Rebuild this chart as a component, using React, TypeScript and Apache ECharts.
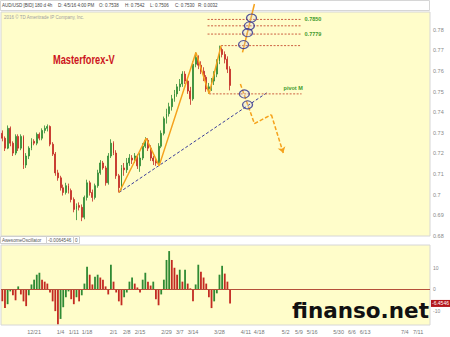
import React, { useEffect, useRef } from "react";
import * as echarts from "echarts";

// ---- axis structure ----
const START_DATE = "2015-12-03";
const SLOT_COUNT = 162; // weekday slots shown on the time axis (data + future space)
const dateTicks = ["12/21", "1/4", "1/11", "1/18", "2/1", "2/8", "2/15", "2/29", "3/7", "3/14", "3/28", "4/11", "4/18", "5/2", "5/9", "5/16", "5/30", "6/6", "6/13", "7/4", "7/11"];
const priceTicks = [0.68, 0.69, 0.7, 0.71, 0.72, 0.73, 0.74, 0.75, 0.76, 0.77, 0.78];
const aoTicks = [-10, 0, 10];

// ---- price data: [open, close, low, high] per day ----
const ohlc = [
  [0.7298, 0.7274, 0.7259, 0.7312], [0.7274, 0.7226, 0.7212, 0.7283], [0.7226, 0.7322, 0.7221, 0.7336],
  [0.7322, 0.7250, 0.7235, 0.7331], [0.7250, 0.7202, 0.7188, 0.7259], [0.7202, 0.7283, 0.7192, 0.7293],
  [0.7283, 0.7226, 0.7212, 0.7293], [0.7226, 0.7283, 0.7216, 0.7293], [0.7283, 0.7144, 0.7125, 0.7288],
  [0.7144, 0.7188, 0.7130, 0.7202], [0.7188, 0.7226, 0.7173, 0.7235], [0.7226, 0.7259, 0.7216, 0.7274],
  [0.7259, 0.7250, 0.7240, 0.7269], [0.7250, 0.7293, 0.7240, 0.7302], [0.7293, 0.7274, 0.7264, 0.7302],
  [0.7274, 0.7312, 0.7264, 0.7322], [0.7312, 0.7322, 0.7298, 0.7336], [0.7322, 0.7331, 0.7307, 0.7341],
  [0.7331, 0.7245, 0.7235, 0.7336], [0.7245, 0.7197, 0.7188, 0.7255], [0.7197, 0.7106, 0.7092, 0.7207],
  [0.7106, 0.7082, 0.7068, 0.7121], [0.7082, 0.7034, 0.7020, 0.7092], [0.7034, 0.7011, 0.6996, 0.7049],
  [0.7011, 0.7044, 0.7001, 0.7058], [0.7044, 0.7020, 0.7006, 0.7054], [0.7020, 0.6977, 0.6963, 0.7030],
  [0.6977, 0.6929, 0.6915, 0.6987], [0.6929, 0.6948, 0.6877, 0.6958], [0.6948, 0.6939, 0.6924, 0.6963],
  [0.6939, 0.6891, 0.6872, 0.6953], [0.6891, 0.6987, 0.6881, 0.6996], [0.6987, 0.7058, 0.6972, 0.7073],
  [0.7058, 0.7011, 0.6996, 0.7068], [0.7011, 0.6987, 0.6967, 0.7025], [0.6987, 0.7044, 0.6977, 0.7054],
  [0.7044, 0.7106, 0.7034, 0.7121], [0.7106, 0.7154, 0.7097, 0.7168], [0.7154, 0.7130, 0.7121, 0.7164],
  [0.7130, 0.7058, 0.7044, 0.7140], [0.7058, 0.7188, 0.7049, 0.7202], [0.7188, 0.7250, 0.7178, 0.7269],
  [0.7250, 0.7202, 0.7192, 0.7259], [0.7202, 0.7092, 0.7077, 0.7216], [0.7092, 0.7034, 0.7011, 0.7101],
  [0.7034, 0.7130, 0.7025, 0.7144], [0.7130, 0.7121, 0.7092, 0.7154], [0.7121, 0.7154, 0.7106, 0.7178],
  [0.7154, 0.7178, 0.7140, 0.7197], [0.7178, 0.7168, 0.7149, 0.7192], [0.7168, 0.7188, 0.7154, 0.7202],
  [0.7188, 0.7140, 0.7125, 0.7197], [0.7140, 0.7178, 0.7111, 0.7202], [0.7178, 0.7235, 0.7168, 0.7250],
  [0.7235, 0.7264, 0.7226, 0.7279], [0.7264, 0.7226, 0.7212, 0.7274], [0.7226, 0.7178, 0.7164, 0.7240],
  [0.7178, 0.7164, 0.7144, 0.7188], [0.7164, 0.7154, 0.7140, 0.7178], [0.7154, 0.7235, 0.7140, 0.7250],
  [0.7235, 0.7298, 0.7226, 0.7312], [0.7298, 0.7369, 0.7288, 0.7379], [0.7369, 0.7393, 0.7345, 0.7417],
  [0.7393, 0.7427, 0.7379, 0.7446], [0.7427, 0.7465, 0.7408, 0.7484], [0.7465, 0.7489, 0.7451, 0.7508],
  [0.7489, 0.7523, 0.7475, 0.7537], [0.7523, 0.7537, 0.7503, 0.7561], [0.7537, 0.7585, 0.7523, 0.7599],
  [0.7585, 0.7551, 0.7537, 0.7599], [0.7551, 0.7503, 0.7489, 0.7570], [0.7503, 0.7465, 0.7436, 0.7523],
  [0.7465, 0.7633, 0.7456, 0.7647], [0.7633, 0.7666, 0.7618, 0.7690], [0.7666, 0.7628, 0.7609, 0.7676],
  [0.7628, 0.7599, 0.7585, 0.7647], [0.7599, 0.7570, 0.7551, 0.7618], [0.7570, 0.7513, 0.7499, 0.7580],
  [0.7513, 0.7523, 0.7489, 0.7542], [0.7523, 0.7551, 0.7503, 0.7566], [0.7551, 0.7585, 0.7532, 0.7599],
  [0.7585, 0.7647, 0.7570, 0.7657], [0.7647, 0.7704, 0.7633, 0.7723], [0.7704, 0.7680, 0.7666, 0.7714],
  [0.7680, 0.7657, 0.7637, 0.7695], [0.7657, 0.7609, 0.7590, 0.7671], [0.7609, 0.7530, 0.7506, 0.7623],
];

// ---- Awesome Oscillator (x1000) ----
const aoValues = [
  -5.5, -8.6, -6.8, -0.9, -2.7, -5.0, 1.4, -2.3, -5.5, -7.7,
  -2.7, 2.3, 4.5, 6.8, 7.7, 4.5, 3.6, 2.7, -1.4, -5.5,
  -10.0, -16.0, -13.6, -8.2, -3.6, -0.9, -4.5, -6.8, -3.6, -5.5,
  -2.7, 2.7, 10.5, 6.8, 2.3, 5.9, 6.8, 5.5, 4.5, 1.4,
  -2.3, 11.4, 3.6, -1.4, -5.5, -7.3, -3.6, -1.4, 3.6, 5.5,
  2.7, 0.9, -1.4, 4.5, 7.7, 3.6, 1.8, 3.6, -4.5, -7.3,
  -2.3, 4.5, 13.6, 17.7, 13.6, 10.0, 6.8, 9.1, 3.6, 9.1,
  2.7, 0.5, -5.5, 2.3, 11.4, 8.2, 5.5, 2.7, -3.6, -8.6,
  -5.5, -1.8, 6.8, 10.9, 7.3, 3.6, -6.4546,
];
const aoLast = -6.4546;

// ---- annotations in data coordinates [slot, price] ----
const zigzag = [[44.1, 0.7011], [54.3, 0.7274], [59.2, 0.714], [73.1, 0.769], [78.1, 0.7489], [82.6, 0.7723]];
const trendLine = [[44.1, 0.7011], [100.4, 0.7499]];
const fibLevels = [0.785, 0.7819, 0.7779, 0.7723];
const fibLabels = ["0.7850", "", "0.7779", ""];
const fibStarts = [77.5, 77.5, 77.5, 82.6];
const levelEnd = 113;
const pivotLevel = 0.7489;
const pivotStart = 78.1;
const ellipses = [[94.1, 0.7857], [93.3, 0.7819], [92.6, 0.7786], [91.1, 0.7728], [91.4, 0.7489], [92.6, 0.7436]];
const upArrow = [[90.7, 0.769], [95.2, 0.7925]];
const downPath = [[89.9, 0.7537], [95.2, 0.7345], [101.6, 0.7388], [106.1, 0.7202]];

const UP = "#2f8a34";
const DOWN = "#c32a22";
const ORANGE = "#f5a21c";
const BG = "#fffdca";
const FONT = "Liberation Sans";

// oscillator panel layout
const AO_TOP = 245;
const AO_HEIGHT = 80;
const AO_MIN = -16.4;
const AO_MAX = 20.5;

function buildWeekdays(start: string, count: number): string[] {
  const out: string[] = [];
  const d = new Date(start + "T00:00:00Z");
  while (out.length < count) {
    const wd = d.getUTCDay();
    if (wd !== 0 && wd !== 6) out.push(`${d.getUTCMonth() + 1}/${d.getUTCDate()}`);
    d.setUTCDate(d.getUTCDate() + 1);
  }
  return out;
}

function buildOption() {
  const cats = buildWeekdays(START_DATE, SLOT_COUNT);
  const tickSet = new Set(dateTicks);
  const aoData = aoValues.map((v, i) => ({
    value: v,
    itemStyle: { color: i > 0 && v > aoValues[i - 1] ? UP : DOWN },
  }));
  const tagY = AO_TOP + ((AO_MAX - aoLast) / (AO_MAX - AO_MIN)) * AO_HEIGHT;

  const fibSeries = fibLevels.map((lvl, i) => ({
    type: "line",
    xAxisIndex: 2,
    yAxisIndex: 0,
    data: [[fibStarts[i], lvl], [levelEnd, lvl]],
    symbol: "none",
    silent: true,
    z: 4,
    lineStyle: { color: "#cc6040", width: 1, type: [2, 1.5] },
    endLabel: {
      show: fibLabels[i] !== "",
      formatter: fibLabels[i],
      color: "#3d9a2c",
      fontSize: 5.5,
      fontWeight: "bold",
      distance: 3,
    },
  }));

  const hdr = (text: string, x: number) => ({
    type: "text",
    x,
    y: 5.5,
    z: 0,
    style: { text, fill: "#444", fontSize: 4.5, fontFamily: FONT, verticalAlign: "middle" },
  });

  return {
    animation: false,
    textStyle: { fontFamily: FONT },
    grid: [
      { left: 1, top: 12, width: 429, height: 224, show: true, backgroundColor: BG, borderColor: "#d6d6d6", borderWidth: 1 },
      { left: 1, top: AO_TOP, width: 429, height: AO_HEIGHT, show: true, backgroundColor: BG, borderColor: "#d6d6d6", borderWidth: 1 },
    ],
    xAxis: [
      { type: "category", gridIndex: 0, data: cats, show: false },
      {
        type: "category",
        gridIndex: 1,
        data: cats,
        axisLine: { show: false },
        axisTick: { show: false },
        axisLabel: {
          interval: (_i: number, v: string) => tickSet.has(v),
          fontSize: 5.5,
          color: "#777",
          margin: 4,
        },
      },
      { type: "value", gridIndex: 0, min: -0.5, max: SLOT_COUNT - 0.5, show: false },
    ],
    yAxis: [
      {
        type: "value",
        gridIndex: 0,
        position: "right",
        min: 0.68,
        max: 0.7886,
        splitLine: { show: false },
        axisLine: { show: false },
        axisTick: { show: false },
        axisLabel: {
          customValues: priceTicks,
          fontSize: 5.5,
          color: "#888",
          margin: 3,
          formatter: (v: number) => String(Number(v.toFixed(2))),
        },
      },
      {
        type: "value",
        gridIndex: 1,
        position: "right",
        min: AO_MIN,
        max: AO_MAX,
        splitLine: { show: false },
        axisLine: { show: false },
        axisTick: { show: false },
        axisLabel: { customValues: aoTicks, fontSize: 5, color: "#888", margin: 3 },
      },
    ],
    series: [
      {
        type: "candlestick",
        xAxisIndex: 0,
        yAxisIndex: 0,
        data: ohlc,
        barWidth: 1.4,
        silent: true,
        itemStyle: { color: UP, color0: DOWN, borderColor: UP, borderColor0: DOWN, borderWidth: 0.8 },
      },
      {
        type: "bar",
        xAxisIndex: 1,
        yAxisIndex: 1,
        data: aoData,
        barWidth: 1.8,
        silent: true,
        markLine: {
          silent: true,
          symbol: "none",
          label: { show: false },
          lineStyle: { color: "#b5503a", width: 1, type: "solid" },
          data: [{ yAxis: 0 }],
        },
      },
      {
        type: "line",
        xAxisIndex: 2,
        yAxisIndex: 0,
        data: trendLine,
        symbol: "none",
        silent: true,
        z: 4,
        lineStyle: { color: "#3a3d9a", width: 1, type: [3, 2] },
      },
      {
        type: "line",
        xAxisIndex: 2,
        yAxisIndex: 0,
        data: zigzag,
        symbol: "none",
        silent: true,
        z: 5,
        lineStyle: { color: ORANGE, width: 1.5 },
      },
      ...fibSeries,
      {
        type: "line",
        xAxisIndex: 2,
        yAxisIndex: 0,
        data: [[pivotStart, pivotLevel], [levelEnd, pivotLevel]],
        symbol: "none",
        silent: true,
        z: 4,
        lineStyle: { color: "#cc6040", width: 1, type: [2, 1.5] },
        endLabel: {
          show: true,
          formatter: "pivot M",
          color: "#3d9a2c",
          fontSize: 5.5,
          fontWeight: "bold",
          offset: [-26, -6],
        },
      },
      {
        type: "line",
        xAxisIndex: 2,
        yAxisIndex: 0,
        data: upArrow,
        symbol: "none",
        silent: true,
        clip: false,
        z: 6,
        lineStyle: { color: ORANGE, width: 1.5 },
        markLine: {
          silent: true,
          symbol: ["none", "arrow"],
          symbolSize: 6,
          label: { show: false },
          lineStyle: { color: ORANGE, width: 1.5, type: "solid" },
          data: [[{ coord: upArrow[0] }, { coord: upArrow[1] }]],
        },
      },
      {
        type: "line",
        xAxisIndex: 2,
        yAxisIndex: 0,
        data: downPath.slice(0, 3),
        symbol: "none",
        silent: true,
        z: 6,
        lineStyle: { color: ORANGE, width: 1.5, type: [4, 2] },
        markLine: {
          silent: true,
          symbol: ["none", "arrow"],
          symbolSize: 6,
          label: { show: false },
          lineStyle: { color: ORANGE, width: 1.5, type: [4, 2] },
          data: [[{ coord: downPath[2] }, { coord: downPath[3] }]],
        },
      },
      {
        type: "scatter",
        xAxisIndex: 2,
        yAxisIndex: 0,
        data: ellipses,
        symbol: "circle",
        symbolSize: [10, 8],
        silent: true,
        z: 7,
        itemStyle: { color: "rgba(200,200,240,0.25)", borderColor: "#2b2c8c", borderWidth: 1.2 },
      },
    ],
    graphic: [
      { type: "rect", z: 0, shape: { x: 0.5, y: 0.5, width: 429, height: 10 }, style: { fill: "#fff", stroke: "#d6d6d6", lineWidth: 1 } },
      hdr("AUD/USD [BID] 180 d 4h", 2),
      hdr("D: 4/5/16 4:00 PM", 58),
      hdr("O: 0.7538", 99),
      hdr("H: 0.7542", 125),
      hdr("L: 0.7506", 150),
      hdr("C: 0.7530", 175),
      hdr("R: 0.0032", 198),
      {
        type: "text",
        x: 4,
        y: 17,
        z: 10,
        style: { text: "2016 © TD Ameritrade IP Company, Inc.", fill: "#a0a0a0", fontSize: 4.5, fontFamily: FONT, verticalAlign: "middle" },
      },
      {
        type: "text",
        x: 53,
        y: 59.5,
        z: 10,
        scaleX: 0.74,
        style: { text: "Masterforex-V", fill: "#cc1420", fontSize: 12.5, fontWeight: "bold", fontFamily: FONT, verticalAlign: "middle" },
      },
      { type: "rect", z: 0, shape: { x: 0.5, y: 236.5, width: 46, height: 7 }, style: { fill: "#fff", stroke: "#cfcfcf", lineWidth: 1 } },
      { type: "rect", z: 0, shape: { x: 46.5, y: 236.5, width: 27, height: 7 }, style: { fill: "#fff", stroke: "#cfcfcf", lineWidth: 1 } },
      { type: "rect", z: 0, shape: { x: 73.5, y: 236.5, width: 6, height: 7 }, style: { fill: "#fff", stroke: "#cfcfcf", lineWidth: 1 } },
      { type: "text", x: 2, y: 240, z: 1, style: { text: "AwesomeOscillator", fill: "#555", fontSize: 4.6, fontFamily: FONT, verticalAlign: "middle" } },
      { type: "text", x: 48, y: 240, z: 1, style: { text: "-0.0064546", fill: "#555", fontSize: 4.6, fontFamily: FONT, verticalAlign: "middle" } },
      { type: "text", x: 75, y: 240, z: 1, style: { text: "0", fill: "#555", fontSize: 4.6, fontFamily: FONT, verticalAlign: "middle" } },
      { type: "rect", z: 50, shape: { x: 431, y: tagY - 3.5, width: 19, height: 7 }, style: { fill: "#b3161b" } },
      {
        type: "text",
        x: 432,
        y: tagY,
        z: 51,
        style: { text: String(aoLast), fill: "#fff", fontSize: 5, fontFamily: FONT, verticalAlign: "middle" },
      },
      {
        type: "text",
        x: 292,
        y: 310,
        z: 100,
        style: { text: "finanso.net", fill: "#111", fontSize: 21.5, fontWeight: "bold", fontFamily: "DejaVu Sans", verticalAlign: "middle" },
      },
    ],
  };
}

export default function App() {
  const ref = useRef<HTMLDivElement>(null);
  useEffect(() => {
    if (!ref.current) return;
    const chart = echarts.init(ref.current, null, { renderer: "svg" });
    chart.setOption(buildOption() as any);
    return () => chart.dispose();
  }, []);
  return (
    <div
      ref={ref}
      style={{ position: "fixed", left: 0, top: 0, width: 450, height: 337, background: "#fff" }}
    />
  );
}
